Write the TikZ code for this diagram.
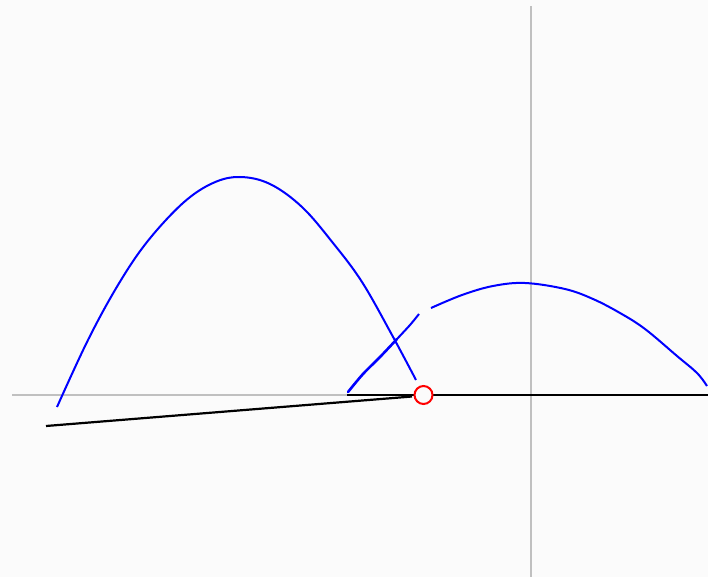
\documentclass[tikz,border=0pt]{standalone}
\definecolor{bg}{HTML}{FBFBFB}
\definecolor{axisgray}{HTML}{C0C0C0}
\definecolor{arcblue}{HTML}{0000FF}
\definecolor{markred}{HTML}{FF0000}
\tikzset{
  axisline/.style={axisgray, line width=2pt},
  groundline/.style={black, line width=2.2pt},
  arcline/.style={arcblue, line width=2pt, line join=round},
  marker/.style={circle, draw=markred, fill=bg, line width=2pt, minimum size=18pt, inner sep=0pt}
}
\begin{document}
\begin{tikzpicture}[x=1pt,y=-1pt]
\fill[bg] (0,0) rectangle (708,577);
\useasboundingbox (0,0) rectangle (708,577);
% axes
\draw[axisline] (12,395) -- (348,395);
\draw[axisline] (531,6) -- (531,577);
% ground lines
\draw[groundline] (46,426) -- (412,396.5);
\draw[groundline] (347,395) -- (708,395);
% first arc
\draw[arcline] plot[smooth, tension=0.6] coordinates {
 (57,407) (88,340) (118,285) (147,242) (183,203) (213,183) (240,177)
 (270,184) (302,207) (333,243) (362,282) (392,335) (416,380)};
% second arc, lower part
\draw[arcblue, line width=2.6pt, line cap=round] plot[smooth, tension=0.5] coordinates {
 (348,392) (363,374) (380,357) (397,339)};
\draw[arcline] plot[smooth, tension=0.5] coordinates {
 (397,339) (410,325) (419,314)};
% second arc, upper part
\draw[arcline] plot[smooth, tension=0.6] coordinates {
 (431,308) (462,295) (493,286) (525,283) (565,289) (593,299) (620,313)
 (645,329) (677,356) (697,373) (707,386)};
% marker
\node[marker] (m) at (423.5,395) {};
\end{tikzpicture}
\end{document}
